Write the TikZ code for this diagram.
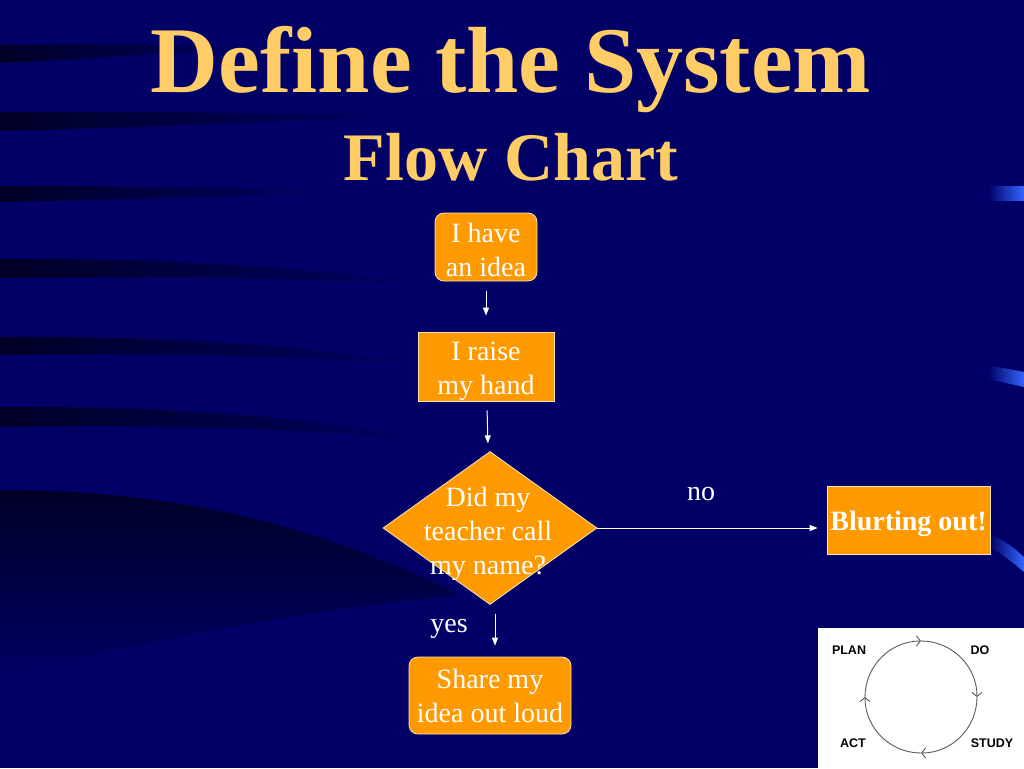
\documentclass[tikz,border=0pt]{standalone}
\usepackage{fontspec}
\setmainfont{Liberation Serif}
\newfontfamily\pdsafont{Liberation Sans}
\usetikzlibrary{shapes.geometric,arrows.meta}
\definecolor{bgblue}{HTML}{000066}
\definecolor{stripe}{HTML}{000026}
\definecolor{titlegold}{HTML}{FFCC66}
\definecolor{boxorange}{HTML}{FF9900}
\definecolor{boxline}{HTML}{FFE3B8}
\definecolor{markblue}{HTML}{3366FF}
\definecolor{pdsagray}{HTML}{5A5A5A}

\begin{document}
\begin{tikzpicture}[x=1pt,y=-1pt,
  box/.style={fill=boxorange,draw=boxline,line width=0.8pt,text=white,align=center,font=\fontsize{28}{34}\selectfont,inner xsep=2pt,inner ysep=0pt},
  roundbox/.style={box,rounded corners=9pt},
  decision/.style={diamond,fill=boxorange,draw=boxline,line width=0.8pt,inner sep=0pt,minimum width=214pt,minimum height=153pt},
  flow/.style={draw=white,line width=1pt,-{Triangle[length=8pt,width=6pt]}},
  answer/.style={text=white,font=\fontsize{28}{34}\selectfont},
  headline/.style={text=titlegold,anchor=base},
  stripeband/.style={left color=stripe,right color=bgblue},
  edgemark/.style={left color=bgblue,right color=markblue},
  pdsatext/.style={font=\pdsafont\bfseries\fontsize{12.5}{14}\selectfont,text=black},
  pdsaarc/.style={draw=pdsagray,line width=0.9pt,-{Straight Barb[length=4pt,width=10pt]}}]
\useasboundingbox (0,0) rectangle (1024,768);
\fill[bgblue] (0,0) rectangle (1024,768);
\shade[stripeband] (0,45) .. controls (80,44) and (180,44) .. (270,46) .. controls (180,52) and (80,60) .. (0,63) -- cycle;
\shade[stripeband] (0,112) .. controls (120,112) and (280,112) .. (420,116) .. controls (280,122) and (120,128) .. (0,131) -- cycle;
\shade[stripeband] (0,186) .. controls (100,186) and (250,187) .. (350,192) .. controls (250,196) and (100,200) .. (0,202) -- cycle;
\shade[stripeband] (0,259) .. controls (150,258) and (300,265) .. (450,288) .. controls (300,276) and (150,277) .. (0,278) -- cycle;
\shade[stripeband] (0,337) .. controls (150,336) and (300,343) .. (440,368) .. controls (300,354) and (150,353) .. (0,355) -- cycle;
\shade[stripeband] (0,407) .. controls (150,406) and (320,415) .. (460,445) .. controls (320,428) and (150,424) .. (0,427) -- cycle;
\shade[top color=stripe,bottom color=bgblue] (0,490) .. controls (150,490) and (300,515) .. (460,595) .. controls (300,610) and (150,640) .. (0,680) -- cycle;
\shade[edgemark] (988,186) rectangle (1024,200);
\shade[edgemark] (988,365) -- (1024,372) -- (1024,387) -- (988,379) -- cycle;
\shade[edgemark] (990,535) .. controls (1005,540) and (1015,549) .. (1024,557) -- (1024,572) .. controls (1012,562) and (1000,552) .. (992,549) -- cycle;

\node[headline,font=\bfseries\fontsize{94}{100}\selectfont] (title) at (511,92) {Define the System};
\node[headline,font=\bfseries\fontsize{68}{72}\selectfont] (subtitle) at (511,180) {Flow Chart};

\node[roundbox,minimum width=102pt,minimum height=68pt] (idea) at (486,247) {\rule{0pt}{25pt}I have\\an idea};
\node[box,minimum width=136pt,minimum height=69pt] (raise) at (486,366.5) {\rule{0pt}{29pt}I raise\\my hand};
\node[decision] (ask) at (490,528) {};
\node[answer,align=center] (asktext) at (488,534) {Did my\\teacher call\\my name?};
\node[box,minimum width=163pt,minimum height=68pt] (blurt) at (908.5,520) {\rule{0pt}{27pt}\textbf{Blurting out!}};
\node[roundbox,minimum width=162pt,minimum height=77pt] (share) at (490,695.5) {Share my\\idea out loud};
\node[answer] (no) at (701,494) {no};
\node[answer] (yes) at (449,629) {yes};

\draw[flow,shorten <=10pt,shorten >=16pt] (idea) -- (raise);
\draw[flow,shorten <=9pt,shorten >=9pt] (raise) -- (ask);
\draw[flow,shorten >=9pt] (ask.east) -- (ask.east -| blurt.west);
\draw[flow,shorten <=9pt,shorten >=11pt] ([xshift=5pt]ask.south) -- ([xshift=5pt]ask.south |- share.north);

\fill[white] (818,628) rectangle (1024,768);
\node[pdsatext] (plan) at (849,650) {PLAN};
\node[pdsatext] (do) at (980,650) {DO};
\node[pdsatext] (act) at (853,743) {ACT};
\node[pdsatext] (study) at (992,743) {STUDY};
\begin{scope}[shift={(921,697)},y=1pt]
\draw[pdsaarc] (-56,0) arc[start angle=180,end angle=90,radius=56];
\draw[pdsaarc] (0,56) arc[start angle=90,end angle=0,radius=56];
\draw[pdsaarc] (56,0) arc[start angle=0,end angle=-90,radius=56];
\draw[pdsaarc] (0,-56) arc[start angle=-90,end angle=-180,radius=56];
\end{scope}
\end{tikzpicture}
\end{document}
